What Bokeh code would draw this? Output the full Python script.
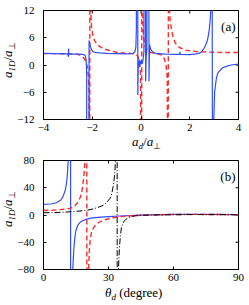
from math import pi
from bokeh.plotting import figure
from bokeh.layouts import column
from bokeh.models import Range1d, FixedTicker, Label, Div
from bokeh.embed import file_html
from bokeh.resources import INLINE

# ---------------- data: panel (a) ----------------
a_xticks = [-4, -2, 0, 2, 4]
a_xticklabels = ["−4", "−2", "0", "2", "4"]
a_yticks = [-12, -6, 0, 6, 12]
a_yticklabels = ["−12", "−6", "0", "6", "12"]

a_red_x = [-4, -3.5, -3, -2.7, -2.5, -2.4, -2.3, -2.25, -2.2, -2.16, -2.13, -2.11,
           -2.09, -2.06, -2.03, -2.0, -1.95, -1.9, -1.8, -1.7, -1.54, -1.3, -1.0, -0.7,
           -0.4, -0.3, -0.2, -0.12, -0.06, -0.02, 0.02, 0.04, 0.07, 0.1, 0.15, 0.2, 0.3,
           0.4, 0.5, 0.6, 0.7, 0.8, 0.9, 0.97, 1.03, 1.08, 1.11, 1.13, 1.16, 1.2, 1.25,
           1.3, 1.39, 1.5, 1.6, 1.8, 2.1, 2.5, 3.0, 3.5, 4.0]
a_red_y = [2.5, 2.5, 2.45, 2.4, 2.2, 1.9, 1.2, 0.6, -0.5, -2.5, -6, -100,
           100, 12, 8.5, 7.2, 6.1, 5.3, 4.6, 4.1, 3.6, 3.2, 2.8, 2.65,
           2.55, 2.45, 2.3, 1.8, 0.8, -2, -100, 100, 10, 6.5, 4.5, 3.7, 3.1,
           2.8, 2.6, 2.5, 2.45, 2.3, 1.9, 1.2, -0.2, -3, -100, 100, 13, 9.5, 8.0,
           6.5, 5.0, 4.2, 3.8, 3.3, 3.05, 2.9, 2.8, 2.75, 2.75]

a_blue_x = [-4, -3.5, -3.0, -2.98, -2.97, -2.96, -2.7, -2.5, -2.35, -2.29, -2.25, -2.23,
            -2.21, -2.16, -2.13, -2.1, -2.05, -2.01, -1.95, -1.88, -1.7, -1.4, -1.0,
            -0.6, -0.35, -0.25, -0.21, -0.19, -0.18, -0.15, -0.13, -0.11, -0.09, -0.07,
            -0.05, -0.03, 0.0, 0.03, 0.06, 0.09, 0.12, 0.14, 0.17, 0.19, 0.21, 0.24,
            0.26, 0.29, 0.33, 0.35, 0.4, 0.5, 0.6, 1.0, 1.5, 1.59, 1.6, 1.61, 2.0, 2.2,
            2.4, 2.5, 2.6, 2.7, 2.75, 2.8, 2.84, 2.87, 2.9, 2.95, 2.98, 3.02, 3.09,
            3.15, 3.24, 3.35, 3.5, 3.7, 4.0]
a_blue_y = [2.55, 2.5, 2.45, 1.8, 3.6, 2.45, 2.4, 2.4, 2.3, 2.1, 1.2, -2,
            -100, -100, 5.4, 4.5, 3.6, 3.2, 2.9, 2.8, 2.65, 2.55, 2.5,
            2.45, 2.5, 2.9, 4, 8, 100, 100, -6.6, 0.8, -0.6, 1.2,
            -0.2, 0.9, 0.2, 1.0, 0.3, 1.5, 3, 100, 100, -3.6, 1.5, 3.5,
            100, 100, -3.6, 4.5, 3.4, 2.8, 2.55, 2.4, 2.35, 2.35, 2.9, 2.35, 2.3, 2.4,
            2.6, 3.0, 3.8, 5.0, 6.1, 7.8, 10, 13, 100, -100, -13, -6, -3,
            -1.8, -1.2, -0.6, -0.3, 0.0, 0.2]

# ---------------- data: panel (b) ----------------
b_xticks = [0, 30, 60, 90]
b_xticklabels = ["0", "30", "60", "90"]
b_yticks = [-80, -40, 0, 40, 80]
b_yticklabels = ["−80", "−40", "0", "40", "80"]

b_blue_x = [0, 2, 4, 6, 8, 9, 10, 10.5, 11, 11.4, 11.8, 12.4, 12.6, 13.1, 13.5, 14,
            14.5, 15, 16, 17, 18, 20, 22, 25, 30, 35, 40, 45, 50, 60, 70, 80, 90]
b_blue_y = [15.5, 15.8, 16.5, 18, 22, 27, 36, 44, 58, 80, 150, 1000, -1000, -150, -80,
            -50, -32, -22, -14, -10.5, -8.5, -6, -4.5, -3.5, -2.5, -1.5, -0.8, -0.2,
            0.3, 0.8, 1.0, 0.8, 0.5]

b_red_x = [0, 5, 10, 12, 14, 15.2, 16, 17, 17.6, 18.2, 18.7, 19.1, 19.5, 19.9, 20.1,
           20.5, 20.8, 21.2, 21.6, 22.2, 23, 24.5, 26, 27.5, 30, 32, 35, 40, 45, 50, 60,
           70, 80, 90]
b_red_y = [6.6, 7.2, 8.5, 9.5, 12, 16, 20, 26, 33, 45, 60, 78, 150, 1000, -1000,
           -150, -80, -50, -35, -25, -19, -13, -10, -8, -5.5, -4, -2.5, -1.2, -0.3, 0.2,
           0.8, 0.9, 0.7, 0.4]

b_black_x = [0, 5, 10, 14, 18, 21, 23, 25, 27.5, 29, 30.6, 31.5, 32.1, 32.6, 33.0, 33.4,
             33.9, 34.1, 34.3, 34.6, 35, 35.5, 36, 37, 38, 39.5, 41, 43, 46, 50, 60, 70,
             80, 90]
b_black_y = [3.3, 3.6, 4.2, 5, 6.2, 7.5, 9, 11, 14, 18, 24, 31, 41, 52, 66, 100,
             1000, -1000, -150, -80, -50, -30, -18, -10, -6.5, -3.5, -2, -1, -0.3, 0,
             0.4, 0.6, 0.5, 0.3]

FONT = "Liberation Serif"
BLUE = "#2f4dff"
RED = "#ff2a2a"

W = 249
H_A = 134
H_B = 171
FRAME_W = 195
BL = 43
BR = W - BL - FRAME_W


def make_fig(height, btop, bbottom, xr, yr, xt, xtl, yt, ytl):
    p = figure(width=W, height=height, output_backend="svg", toolbar_location=None,
               x_range=Range1d(*xr), y_range=Range1d(*yr),
               min_border_left=BL, min_border_right=BR,
               min_border_top=btop, min_border_bottom=bbottom,
               background_fill_color="white", border_fill_color=None)
    p.xgrid.visible = False
    p.ygrid.visible = False
    p.outline_line_color = "black"
    p.outline_line_width = 1
    for ax, ticks, labels in ((p.xaxis[0], xt, xtl), (p.yaxis[0], yt, ytl)):
        ax.ticker = FixedTicker(ticks=ticks)
        ax.major_label_overrides = {t: l for t, l in zip(ticks, labels)}
        ax.major_tick_in = 3
        ax.major_tick_out = 0
        ax.minor_tick_line_color = None
        ax.axis_line_color = "black"
        ax.major_tick_line_color = "black"
        ax.major_label_text_font = FONT
        ax.major_label_text_font_size = "11px"
        ax.major_label_text_color = "black"
    p.xaxis[0].major_label_standoff = 4
    p.yaxis[0].major_label_standoff = 9
    # mirrored inward ticks on the top and right edges of the frame
    p.ray(x=xt, y=[yr[1]] * len(xt), length=3, length_units="screen",
          angle=-pi / 2, line_color="black", line_width=1)
    p.ray(x=[xr[1]] * len(yt), y=yt, length=3, length_units="screen",
          angle=pi, line_color="black", line_width=1)
    return p


# ---------------- panel (a) ----------------
pa = make_fig(H_A, 10, 15, (-4, 4), (-12, 12), a_xticks, a_xticklabels,
              a_yticks, a_yticklabels)
pa.line(a_red_x, a_red_y, line_color=RED, line_width=1.4, line_dash="5 3")
pa.line(a_blue_x, a_blue_y, line_color=BLUE, line_width=1.2)
pa.add_layout(Label(x=FRAME_W - 3, y=93, x_units="screen", y_units="screen", text="(a)",
                    text_font=FONT, text_font_size="13px", text_align="right",
                    text_baseline="alphabetic", text_color="black"))

# ---------------- panel (b) ----------------
pb = make_fig(H_B, 26, 36, (0, 90), (-80, 80), b_xticks, b_xticklabels,
              b_yticks, b_yticklabels)
pb.line(b_blue_x, b_blue_y, line_color=BLUE, line_width=1.2)
pb.line(b_red_x, b_red_y, line_color=RED, line_width=1.4, line_dash="5 3")
pb.line(b_black_x, b_black_y, line_color="black", line_width=1.0, line_dash="6 2 1 2")
pb.add_layout(Label(x=FRAME_W - 3, y=93, x_units="screen", y_units="screen", text="(b)",
                    text_font=FONT, text_font_size="13px", text_align="right",
                    text_baseline="alphabetic", text_color="black"))

# ---------------- axis titles (HTML text with real subscripts) ----------------
SUB = "font-size:9px;vertical-align:-3px;"
ylab = (f"<i>a</i><span style='{SUB}'><i>1D</i></span>/"
        f"<i>a</i><span style='{SUB}'>⊥</span>")
xlab_a = (f"<i>a</i><span style='{SUB}'><i>d</i></span>/"
          f"<i>a</i><span style='{SUB}'>⊥</span>")
xlab_b = f"<i>θ</i><span style='{SUB}'><i>d</i></span> (degree)"

BASE = ("position:absolute;white-space:nowrap;font-size:13px;line-height:13px;"
        "color:black;")
ROT = "transform-origin:0 0;transform:rotate(-90deg);"


def span(txt, left, top, rotated=False):
    st = BASE + (ROT if rotated else "") + f"left:{left}px;top:{top}px;"
    return f"<span style=\"{st}\">{txt}</span>"


TOTAL_H = H_A + H_B
html = (f"<div style=\"position:relative;width:{W}px;height:{TOTAL_H}px;"
        f"font-family:'{FONT}',serif;\">"
        + span(ylab, 1, 78, True)
        + span(ylab, 1, 227, True)
        + span(xlab_a, 132, 135)
        + span(xlab_b, 105, 286)
        + "</div>")

overlay = Div(text=html, width=W, height=TOTAL_H, margin=(-TOTAL_H, 0, 0, 0),
              styles={"overflow": "visible"})

layout = column(pa, pb, overlay, spacing=0)
open("out.html", "w").write(file_html(layout, INLINE))
